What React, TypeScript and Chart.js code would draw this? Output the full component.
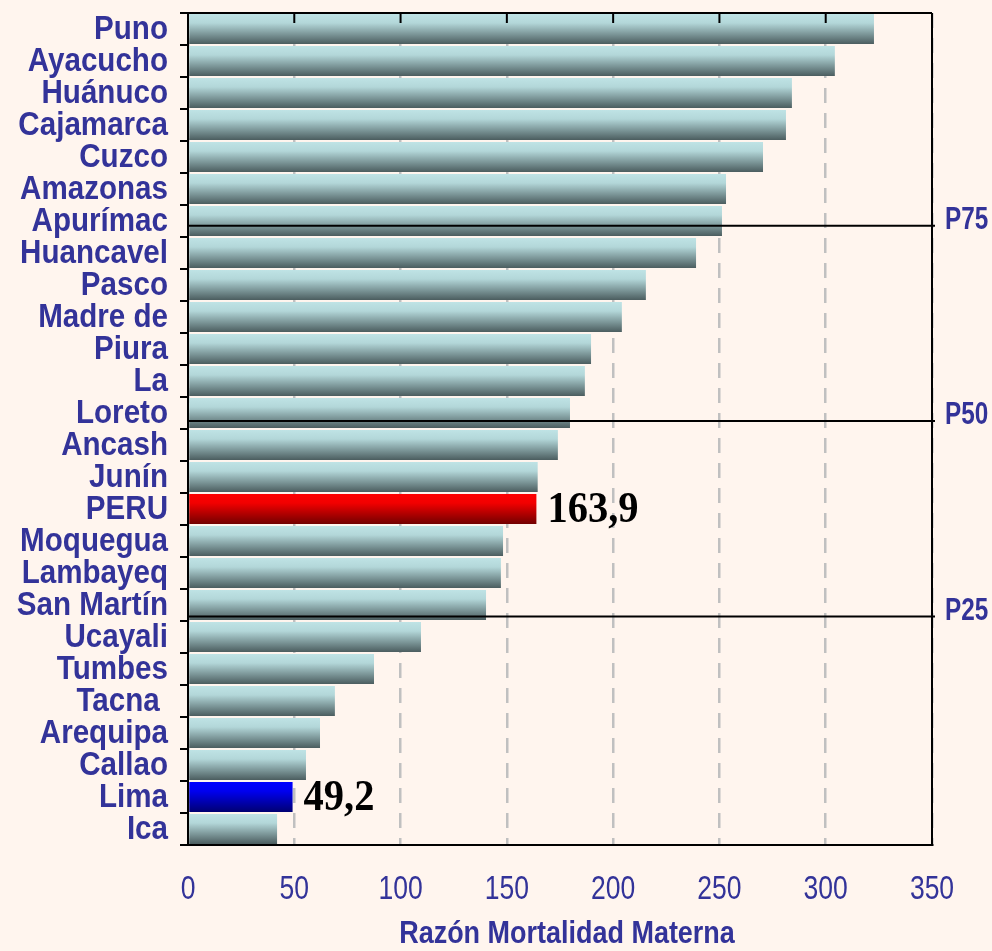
import { useEffect, useRef } from "react";
import { Chart, registerables } from "chart.js";

Chart.register(...registerables);

// Maternal mortality ratio by department (per 100 000 live births)
const regions = [
  "Puno", "Ayacucho", "Huánuco", "Cajamarca", "Cuzco", "Amazonas", "Apurímac",
  "Huancavel", "Pasco", "Madre de", "Piura", "La", "Loreto", "Ancash", "Junín",
  "PERU", "Moquegua", "Lambayeq", "San Martín", "Ucayali", "Tumbes", "Tacna ",
  "Arequipa", "Callao", "Lima", "Ica",
];
const ratios = [
  322.7, 304.3, 284.1, 281.3, 270.5, 253.1, 251.2,
  239.0, 215.4, 204.1, 189.6, 186.7, 179.7, 174.0, 164.5,
  163.9, 148.2, 147.2, 140.2, 109.6, 87.5, 69.1,
  62.1, 55.5, 49.2, 41.9,
];
const xTicks = [0, 50, 100, 150, 200, 250, 300, 350];
const xTitle = "Razón Mortalidad Materna";

// Highlighted rows: national value and the capital
const nationalRow = "PERU";
const capitalRow = "Lima";

// Percentile reference lines, placed along the category axis
const percentileLabels = ["P75", "P50", "P25"];
const percentileRows = [6.15, 12.25, 18.36];

const BG = "#fff5ee";
const INK = "#333399";
const SANS = '"Liberation Sans", Arial, sans-serif';
const SERIF = '"Liberation Serif", "Times New Roman", serif';
const BAR_PCT = 0.94;
// Horizontal squeeze applied to the lettering (narrow, tall type)
const SQUEEZE = 0.87;

function squeezedText(
  ctx: CanvasRenderingContext2D,
  text: string,
  x: number,
  y: number,
  font: string,
  color: string,
  align: CanvasTextAlign,
  baseline: CanvasTextBaseline,
  sx = SQUEEZE
) {
  ctx.save();
  ctx.translate(x, y);
  ctx.scale(sx, 1);
  ctx.font = font;
  ctx.fillStyle = color;
  ctx.textAlign = align;
  ctx.textBaseline = baseline;
  ctx.fillText(text, 0, 0);
  ctx.restore();
}

function barFill(ctx: any) {
  const chart = ctx.chart;
  const y = chart.scales?.y;
  const name = regions[ctx.dataIndex];
  const stops =
    name === nationalRow
      ? ["#ff0000", "#f20000", "#720000"]
      : name === capitalRow
      ? ["#0000ff", "#0000f0", "#000072"]
      : ["#bfe3e5", "#b3d7d9", "#4b5d5f"];
  if (!y || ctx.type !== "data") return stops[1];
  const c = y.getPixelForValue(ctx.dataIndex);
  const band = (y.bottom - y.top) / regions.length;
  const h = band * BAR_PCT;
  if (!isFinite(c) || !isFinite(h) || h <= 0) return stops[1];
  const g = chart.ctx.createLinearGradient(0, c - h / 2, 0, c + h / 2);
  g.addColorStop(0, stops[0]);
  g.addColorStop(0.3, stops[1]);
  g.addColorStop(1, stops[2]);
  return g;
}

const backgroundPlugin = {
  id: "pageBackground",
  beforeDraw(chart: any) {
    const { ctx, width, height } = chart;
    ctx.save();
    ctx.fillStyle = BG;
    ctx.fillRect(0, 0, width, height);
    ctx.restore();
  },
};

// Axis lettering: category names, value ticks and the axis title
const axisTextPlugin = {
  id: "axisText",
  afterDraw(chart: any) {
    const { ctx, chartArea: a, scales } = chart;
    regions.forEach((name, i) => {
      const py = scales.y.getPixelForValue(i);
      squeezedText(ctx, name, a.left - 20, py + 1, `bold 34px ${SANS}`, INK, "right", "middle");
    });
    scales.x.ticks.forEach((t: any) => {
      const px = scales.x.getPixelForValue(t.value);
      squeezedText(ctx, String(t.value), px, a.bottom + 45, `34px ${SANS}`, INK, "center", "middle", 0.78);
    });
    squeezedText(ctx, xTitle, (a.left + a.right) / 2 + 7, a.bottom + 89, `bold 31px ${SANS}`, INK, "center", "middle");
  },
};

// Closes the plot frame (top and right) and adds inward ticks on the top edge
const framePlugin = {
  id: "plotFrame",
  afterDatasetsDraw(chart: any) {
    const { ctx, chartArea: a, scales } = chart;
    ctx.save();
    ctx.strokeStyle = "#000";
    ctx.lineWidth = 2;
    ctx.beginPath();
    ctx.moveTo(a.left, a.top);
    ctx.lineTo(a.right, a.top);
    ctx.moveTo(a.right, a.top);
    ctx.lineTo(a.right, a.bottom);
    for (const v of xTicks) {
      const px = scales.x.getPixelForValue(v);
      ctx.moveTo(px, a.top);
      ctx.lineTo(px, a.top + 10);
    }
    ctx.stroke();
    ctx.restore();
  },
};

const percentilePlugin = {
  id: "percentiles",
  afterDatasetsDraw(chart: any) {
    const { ctx, chartArea: a, scales } = chart;
    percentileRows.forEach((row, i) => {
      const py = scales.y.getPixelForValue(row);
      ctx.save();
      ctx.strokeStyle = "#000";
      ctx.lineWidth = 2;
      ctx.beginPath();
      ctx.moveTo(a.left, py);
      ctx.lineTo(a.right + 3, py);
      ctx.stroke();
      ctx.restore();
      squeezedText(ctx, percentileLabels[i], a.right + 13, py + 3, `bold 32px ${SANS}`, INK, "left", "alphabetic", 0.76);
    });
  },
};

const valueLabelPlugin = {
  id: "valueLabels",
  afterDatasetsDraw(chart: any) {
    const { ctx } = chart;
    const meta = chart.getDatasetMeta(0);
    [nationalRow, capitalRow].forEach((name) => {
      const i = regions.indexOf(name);
      const bar = meta.data[i];
      if (!bar) return;
      const text = ratios[i].toFixed(1).replace(".", ",");
      squeezedText(ctx, text, bar.x + 11, bar.y + 1, `bold 45px ${SERIF}`, "#000", "left", "middle", 0.9);
    });
  },
};

export default function App() {
  const ref = useRef<HTMLCanvasElement>(null);

  useEffect(() => {
    document.body.style.margin = "0";
    document.body.style.background = BG;
    const chart = new Chart(ref.current!, {
      type: "bar",
      data: {
        labels: regions,
        datasets: [
          {
            data: ratios,
            backgroundColor: barFill as any,
            borderWidth: 0,
            barPercentage: BAR_PCT,
            categoryPercentage: 1,
          },
        ],
      },
      options: {
        indexAxis: "y",
        responsive: false,
        animation: false,
        events: [],
        layout: { padding: { top: 13, right: 60, bottom: 0, left: 0 } },
        plugins: { legend: { display: false }, tooltip: { enabled: false } },
        scales: {
          x: {
            min: 0,
            max: 350,
            afterBuildTicks: (s: any) => {
              s.ticks = xTicks.map((v) => ({ value: v }));
            },
            afterFit: (s: any) => {
              s.height = 106;
              s.paddingLeft = 0;
              s.paddingRight = 0;
            },
            ticks: { display: false },
            grid: { color: "#c0c0c0", lineWidth: 2.5, drawTicks: false },
            border: { display: true, color: "#000", width: 2, dash: [15, 10], z: 1 },
          },
          y: {
            afterFit: (s: any) => {
              s.width = 188;
              s.paddingTop = 0;
              s.paddingBottom = 0;
            },
            ticks: { display: false, autoSkip: false },
            grid: {
              drawOnChartArea: false,
              drawTicks: true,
              tickLength: 8,
              color: "#000",
              lineWidth: 2,
            },
            border: { display: true, color: "#000", width: 2, z: 1 },
          },
        },
      },
      plugins: [backgroundPlugin, framePlugin, percentilePlugin, valueLabelPlugin, axisTextPlugin],
    });
    return () => chart.destroy();
  }, []);

  return (
    <canvas
      ref={ref}
      width={992}
      height={951}
      style={{ display: "block", width: 992, height: 951 }}
    />
  );
}
